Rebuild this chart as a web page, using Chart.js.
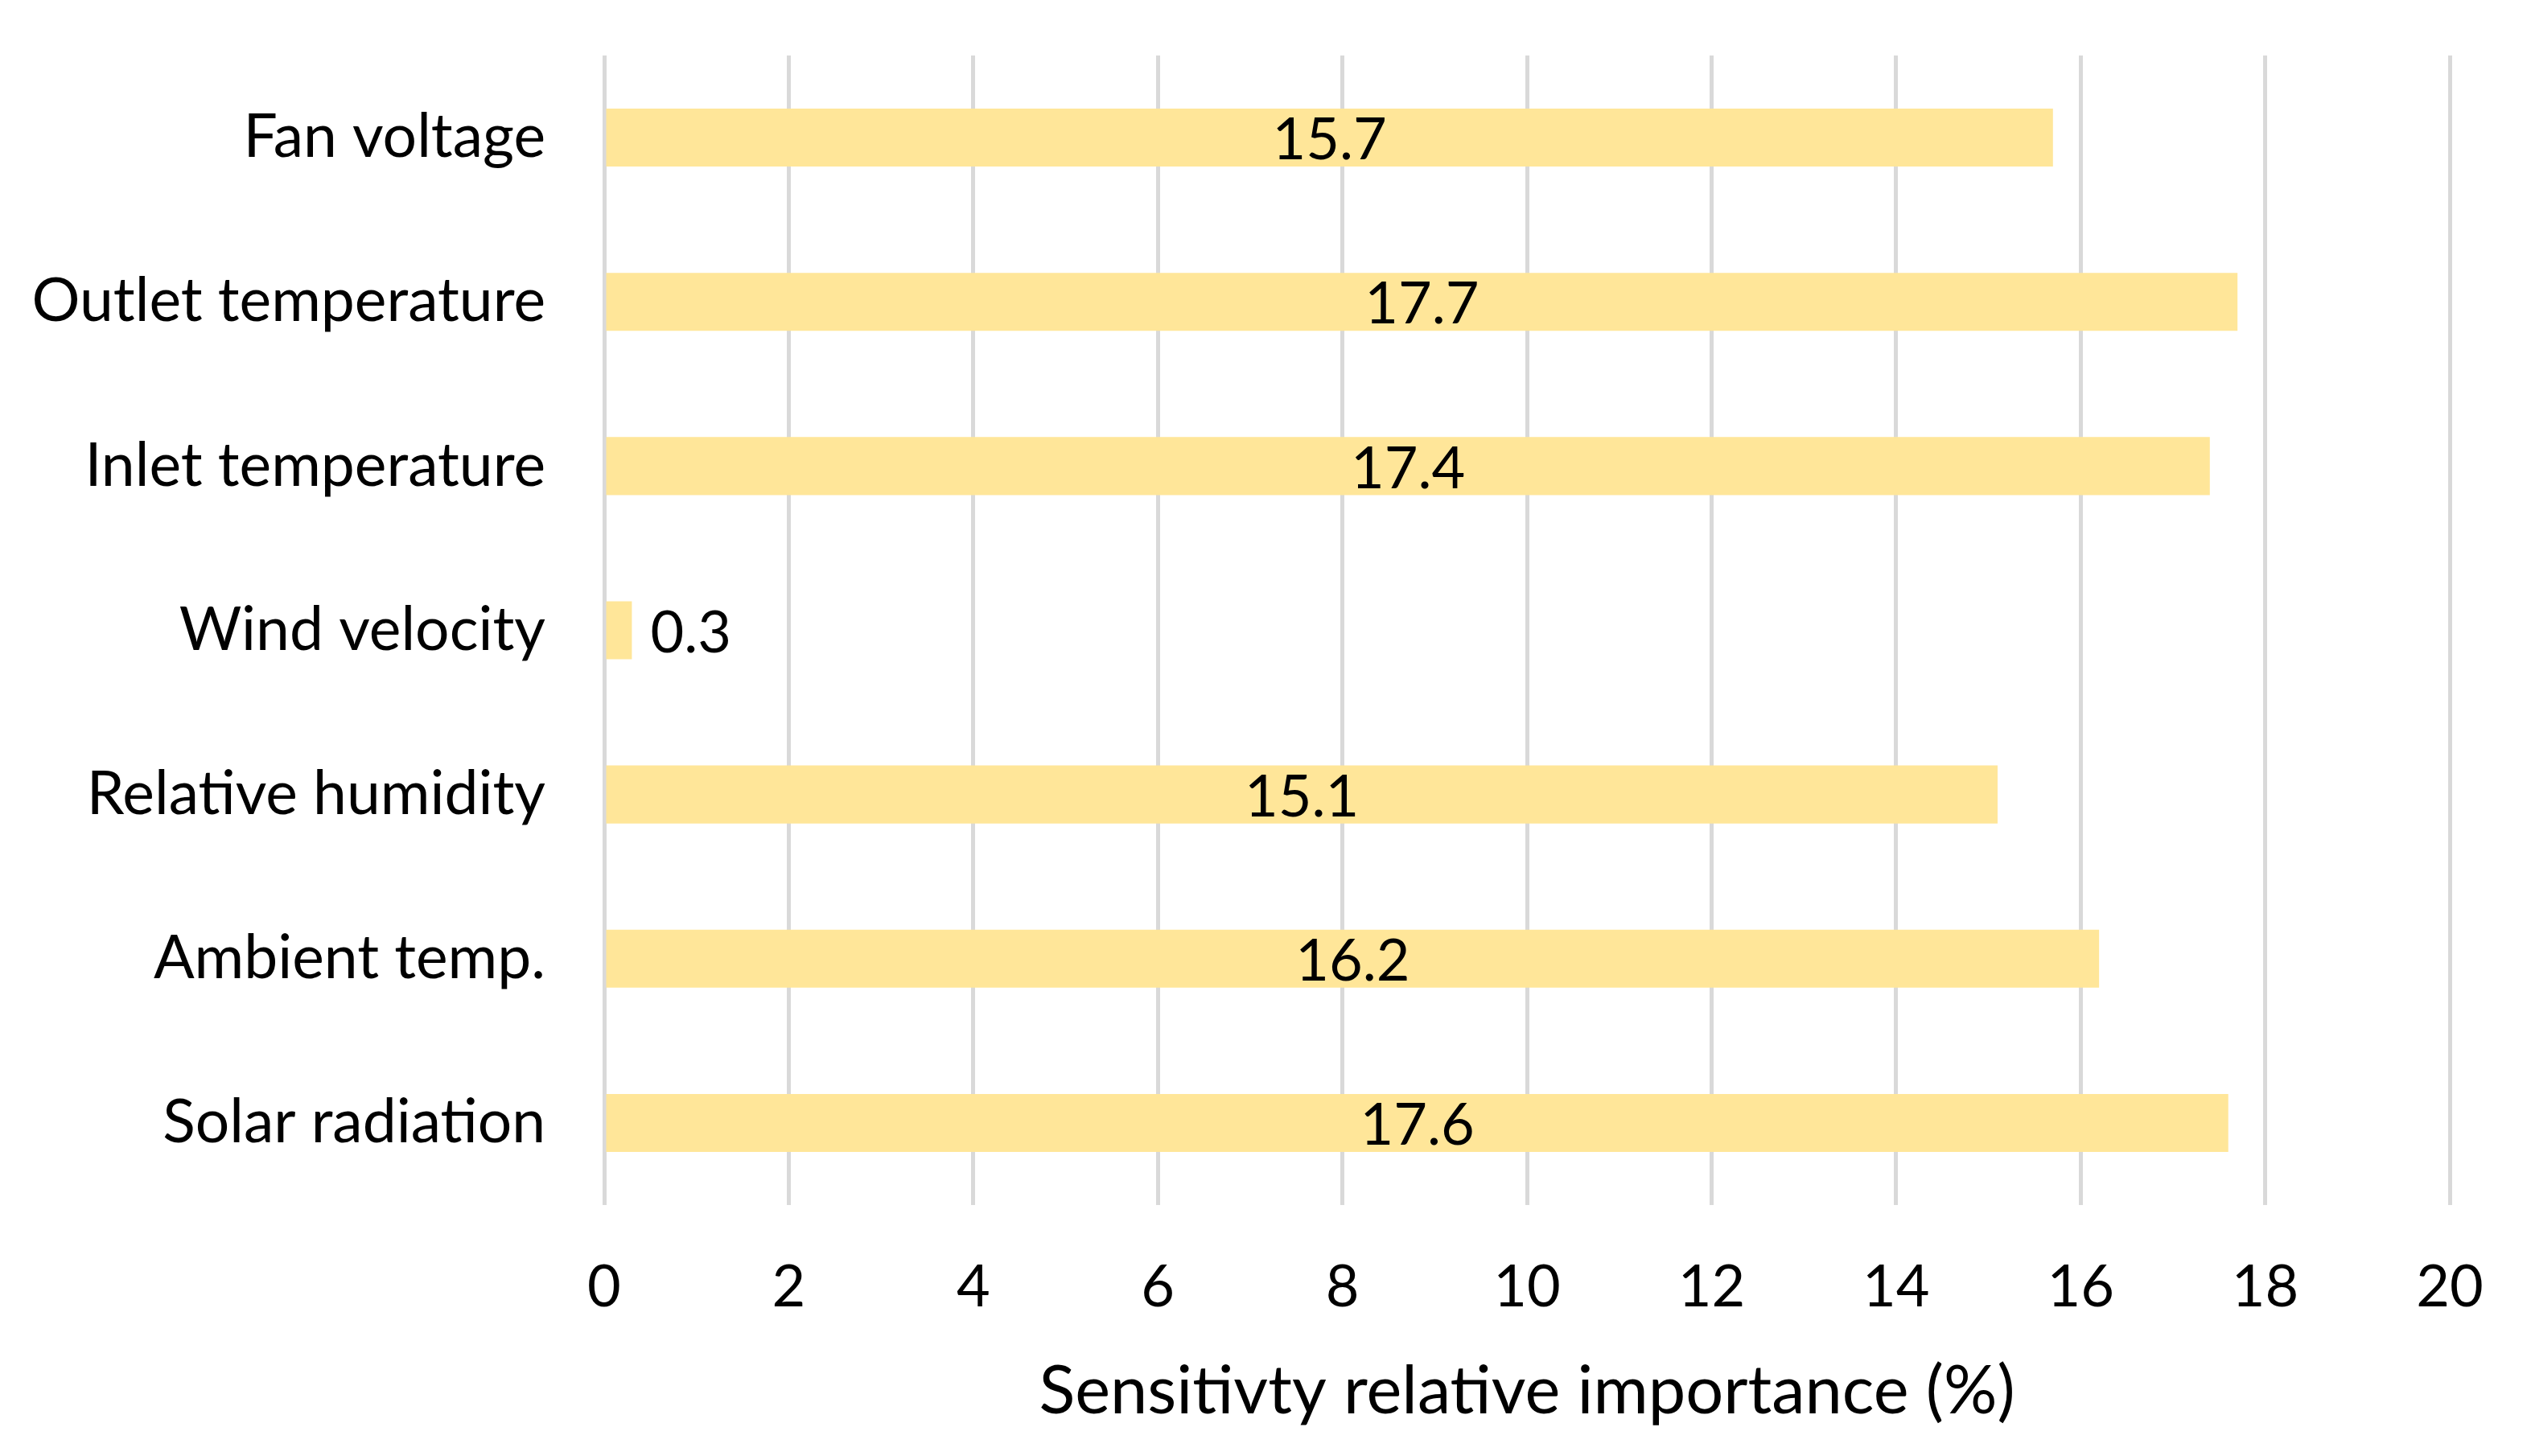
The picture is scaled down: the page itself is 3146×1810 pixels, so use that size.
<!DOCTYPE html>
<html>
<head>
<meta charset="utf-8">
<script src="https://cdn.jsdelivr.net/npm/chart.js@4/dist/chart.umd.min.js"></script>
<style>
  html, body { margin: 0; padding: 0; background: #ffffff; }
  canvas { display: block; }
</style>
</head>
<body>
<canvas id="c" width="3146" height="1810"></canvas>
<script>
const categories = ["Fan voltage", "Outlet temperature", "Inlet temperature", "Wind velocity", "Relative humidity", "Ambient temp.", "Solar radiation"];
const values = [15.7, 17.7, 17.4, 0.3, 15.1, 16.2, 17.6];
const xTicks = [0, 2, 4, 6, 8, 10, 12, 14, 16, 18, 20];
const axisTitle = "Sensitivty relative importance (%)";

const FONT = "Lato";

const barLabels = {
  id: "barLabels",
  afterDatasetsDraw(chart) {
    const ctx = chart.ctx;
    const meta = chart.getDatasetMeta(0);
    ctx.save();
    ctx.font = "72px " + FONT;
    ctx.fillStyle = "#000000";
    ctx.textBaseline = "middle";
    meta.data.forEach((bar, i) => {
      const txt = values[i].toFixed(1);
      const w = ctx.measureText(txt).width;
      const left = Math.min(bar.base, bar.x);
      const right = Math.max(bar.base, bar.x);
      if (w + 10 < right - left) {
        ctx.textAlign = "center";
        ctx.fillText(txt, (left + right) / 2, bar.y + 4);
      } else {
        ctx.textAlign = "left";
        ctx.fillText(txt, right + 23, bar.y + 4);
      }
    });
    ctx.restore();
  }
};

new Chart(document.getElementById("c"), {
  type: "bar",
  data: {
    labels: categories,
    datasets: [{
      data: values,
      backgroundColor: "#FFE699",
      borderWidth: 0,
      categoryPercentage: 1.0,
      barPercentage: 0.353
    }]
  },
  options: {
    indexAxis: "y",
    responsive: false,
    devicePixelRatio: 1,
    animation: false,
    layout: { padding: { top: 69, right: 101, bottom: 0, left: 0 } },
    plugins: {
      legend: { display: false },
      tooltip: { enabled: false }
    },
    scales: {
      x: {
        type: "linear",
        min: xTicks[0],
        max: xTicks[xTicks.length - 1],
        afterBuildTicks(scale) { scale.ticks = xTicks.map(v => ({ value: v })); },
        grid: { color: "#D9D9D9", lineWidth: 5, drawTicks: false },
        border: { display: false },
        ticks: {
          color: "#000000",
          font: { family: FONT, size: 72 },
          padding: 60
        },
        title: {
          display: true,
          text: axisTitle,
          color: "#000000",
          font: { family: FONT, size: 83 },
          padding: { top: 0, bottom: 30 }
        },
        afterFit(scale) {
          scale.height = 312;
          scale.paddingLeft = 0;
          scale.paddingRight = 0;
        }
      },
      y: {
        grid: { display: false, drawTicks: false },
        border: { display: false },
        ticks: {
          color: "#000000",
          font: { family: FONT, size: 75 },
          padding: 73
        },
        afterFit(scale) {
          scale.width = 751;
          scale.paddingTop = 0;
          scale.paddingBottom = 0;
        }
      }
    }
  },
  plugins: [barLabels]
});
</script>
</body>
</html>
